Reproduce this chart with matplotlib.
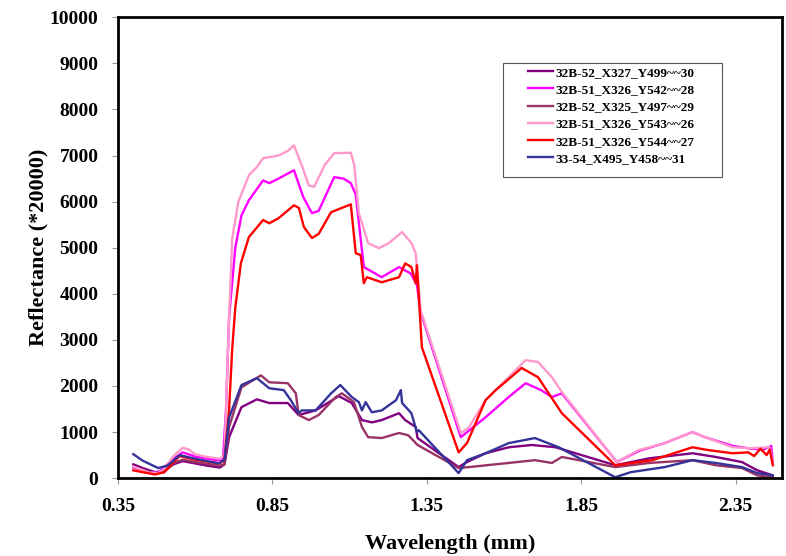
import matplotlib
matplotlib.use('Agg')
import matplotlib.pyplot as plt

# wavelength (mm) / reflectance (*20000)
names = ['32B-52_X327_Y499~~30', '32B-51_X326_Y542~~28', '32B-52_X325_Y497~~29',
         '32B-51_X326_Y543~~26', '32B-51_X326_Y544~~27', '33-54_X495_Y458~~31']
colors = ['#800080', '#FF00FF', '#993366', '#FF99CC', '#FF0000', '#333399']

wl_purple = [0.40, 0.43, 0.47, 0.50, 0.53, 0.56, 0.60, 0.64, 0.68, 0.695, 0.71, 0.75,
             0.80, 0.84, 0.90, 0.935, 0.99, 1.065, 1.107, 1.14, 1.172, 1.204, 1.26,
             1.28, 1.314, 1.32, 1.453, 1.48, 1.54, 1.615, 1.69, 1.767, 1.96, 2.07,
             2.21, 2.285, 2.37, 2.42, 2.47]
r_purple = [300, 220, 130, 160, 300, 370, 320, 270, 230, 300, 890, 1540,
            1710, 1630, 1630, 1370, 1470, 1780, 1630, 1260, 1210, 1260, 1410,
            1260, 1110, 870, 240, 350, 540, 670, 720, 670, 280, 430,
            540, 460, 350, 170, 60]

wl_magenta = [0.40, 0.43, 0.45, 0.48, 0.53, 0.56, 0.60, 0.66, 0.69, 0.70, 0.71, 0.73,
              0.75, 0.774, 0.82, 0.84, 0.87, 0.92, 0.95, 0.978, 1.0, 1.05, 1.08,
              1.104, 1.12, 1.146, 1.204, 1.26, 1.298, 1.318, 1.33, 1.46, 1.54,
              1.615, 1.67, 1.72, 1.755, 1.787, 1.965, 2.04, 2.12, 2.21, 2.25, 2.34,
              2.40, 2.44, 2.465, 2.47]
r_magenta = [230, 180, 130, 120, 420, 560, 470, 400, 380, 1500, 3500, 5000,
             5700, 6030, 6460, 6400, 6500, 6680, 6100, 5750, 5800, 6530, 6500,
             6400, 6150, 4580, 4360, 4580, 4440, 4190, 3600, 890, 1320,
             1760, 2060, 1910, 1760, 1840, 350, 600, 760, 1000, 890, 700,
             640, 620, 700, 330]

wl_maroon = [0.40, 0.43, 0.47, 0.50, 0.53, 0.56, 0.60, 0.64, 0.68, 0.695, 0.71, 0.75,
             0.813, 0.84, 0.90, 0.926, 0.935, 0.968, 1.0, 1.055, 1.075, 1.114, 1.14,
             1.16, 1.204, 1.26, 1.29, 1.32, 1.453, 1.486, 1.615, 1.70, 1.755, 1.787,
             1.96, 2.07, 2.21, 2.285, 2.37, 2.42, 2.47]
r_maroon = [250, 180, 100, 130, 330, 400, 350, 310, 270, 300, 1110, 1970,
            2230, 2080, 2060, 1840, 1370, 1260, 1370, 1760, 1840, 1650, 1110,
            890, 870, 980, 930, 720, 220, 240, 330, 390, 330, 460,
            240, 330, 390, 280, 220, 60, 20]

wl_pink = [0.40, 0.42, 0.45, 0.48, 0.50, 0.53, 0.56, 0.58, 0.60, 0.63, 0.66, 0.68,
           0.695, 0.71, 0.72, 0.74, 0.774, 0.80, 0.82, 0.87, 0.90, 0.92, 0.95,
           0.968, 0.985, 1.02, 1.05, 1.104, 1.115, 1.13, 1.16, 1.195, 1.227, 1.27,
           1.30, 1.314, 1.33, 1.46, 1.486, 1.54, 1.615, 1.67, 1.71, 1.755, 1.787,
           1.965, 2.036, 2.12, 2.21, 2.25, 2.34, 2.40, 2.46, 2.47]
r_pink = [250, 200, 120, 110, 200, 480, 660, 620, 520, 470, 440, 420,
          500, 3500, 5200, 6000, 6570, 6750, 6940, 7000, 7100, 7220, 6700,
          6350, 6320, 6800, 7050, 7060, 6800, 5750, 5100, 4990, 5100, 5340,
          5100, 4880, 3640, 980, 1100, 1690, 2190, 2560, 2520, 2190, 1870,
          350, 610, 760, 1000, 890, 670, 650, 670, 330]

wl_red = [0.40, 0.43, 0.47, 0.50, 0.53, 0.55, 0.60, 0.65, 0.68, 0.695, 0.71, 0.72,
          0.73, 0.748, 0.774, 0.82, 0.84, 0.87, 0.92, 0.936, 0.952, 0.978, 1.0,
          1.04, 1.104, 1.12, 1.136, 1.146, 1.156, 1.204, 1.26, 1.28, 1.30, 1.314,
          1.318, 1.334, 1.453, 1.48, 1.54, 1.573, 1.657, 1.71, 1.787, 1.96, 2.08,
          2.21, 2.26, 2.34, 2.39, 2.41, 2.43, 2.45, 2.46, 2.47]
r_red = [170, 130, 80, 130, 350, 480, 400, 350, 320, 400, 1500, 2800,
         3700, 4660, 5230, 5600, 5530, 5640, 5920, 5860, 5450, 5210, 5300,
         5770, 5940, 4880, 4840, 4230, 4360, 4250, 4360, 4660, 4580, 4230,
         4620, 2840, 560, 760, 1690, 1910, 2390, 2190, 1410, 280, 390,
         670, 610, 540, 560, 480, 640, 500, 620, 280]

wl_blue = [0.40, 0.43, 0.48, 0.51, 0.55, 0.60, 0.654, 0.677, 0.695, 0.71, 0.75,
           0.80, 0.84, 0.887, 0.91, 0.935, 0.945, 0.99, 1.04, 1.07, 1.107, 1.13,
           1.14, 1.152, 1.172, 1.204, 1.25, 1.266, 1.27, 1.30, 1.318, 1.324, 1.453,
           1.48, 1.54, 1.615, 1.70, 1.777, 1.96, 2.01, 2.12, 2.21, 2.285, 2.37,
           2.42, 2.47]
r_blue = [520, 380, 220, 270, 500, 420, 350, 320, 400, 1320, 2020,
          2170, 1950, 1910, 1690, 1410, 1470, 1470, 1840, 2020, 1760, 1650,
          1470, 1650, 1430, 1470, 1690, 1910, 1630, 1410, 1000, 1040, 110,
          390, 540, 760, 870, 670, 20, 130, 240, 390, 330, 240,
          110, 60]

series = [(wl_purple, r_purple), (wl_magenta, r_magenta), (wl_maroon, r_maroon),
          (wl_pink, r_pink), (wl_red, r_red), (wl_blue, r_blue)]

xticks = [0.35, 0.85, 1.35, 1.85, 2.35]
yticks = list(range(0, 10001, 1000))

plt.rcParams['font.family'] = ['Liberation Serif', 'DejaVu Serif']
plt.rcParams['font.weight'] = 'bold'

fig = plt.figure(figsize=(7.86, 5.56), dpi=100)
ax = fig.add_axes([0.150, 0.140, 0.845, 0.829])

for (wl, r), name, c in zip(series, names, colors):
    ax.plot(wl, r, color=c, lw=1.7, label=name)

ax.set_xlim(0.35, 2.5)
ax.set_ylim(0, 10000)
ax.set_xticks(xticks)
ax.set_xticklabels(['%.2f' % t for t in xticks])
ax.set_yticks(yticks)
ax.tick_params(direction='out', labelsize=14, length=4, width=0.8,
               colors='#999999', labelcolor='black', pad=10)
for lab in ax.get_xticklabels() + ax.get_yticklabels():
    lab.set_fontweight('bold')
for sp in ax.spines.values():
    sp.set_linewidth(2)
    sp.set_color('black')

ax.set_xlabel('Wavelength (mm)', fontsize=16, fontweight='bold', labelpad=14)
ax.set_ylabel('Reflectance (*20000)', fontsize=16, fontweight='bold', labelpad=1)

# legend box drawn separately so the text sits centred like the original
box = plt.Rectangle((0.580, 0.653), 0.330, 0.247, transform=ax.transAxes,
                    facecolor='white', edgecolor='#555555', lw=0.8, zorder=4)
ax.add_patch(box)
leg = ax.legend(loc='upper left', bbox_to_anchor=(0.618, 0.893), frameon=False,
                prop={'size': 9.5, 'weight': 'bold'},
                handlelength=1.9, labelspacing=0.38, borderpad=0,
                handletextpad=0.15, borderaxespad=0)
leg.set_zorder(5)

fig.savefig('out.png', dpi=100)
